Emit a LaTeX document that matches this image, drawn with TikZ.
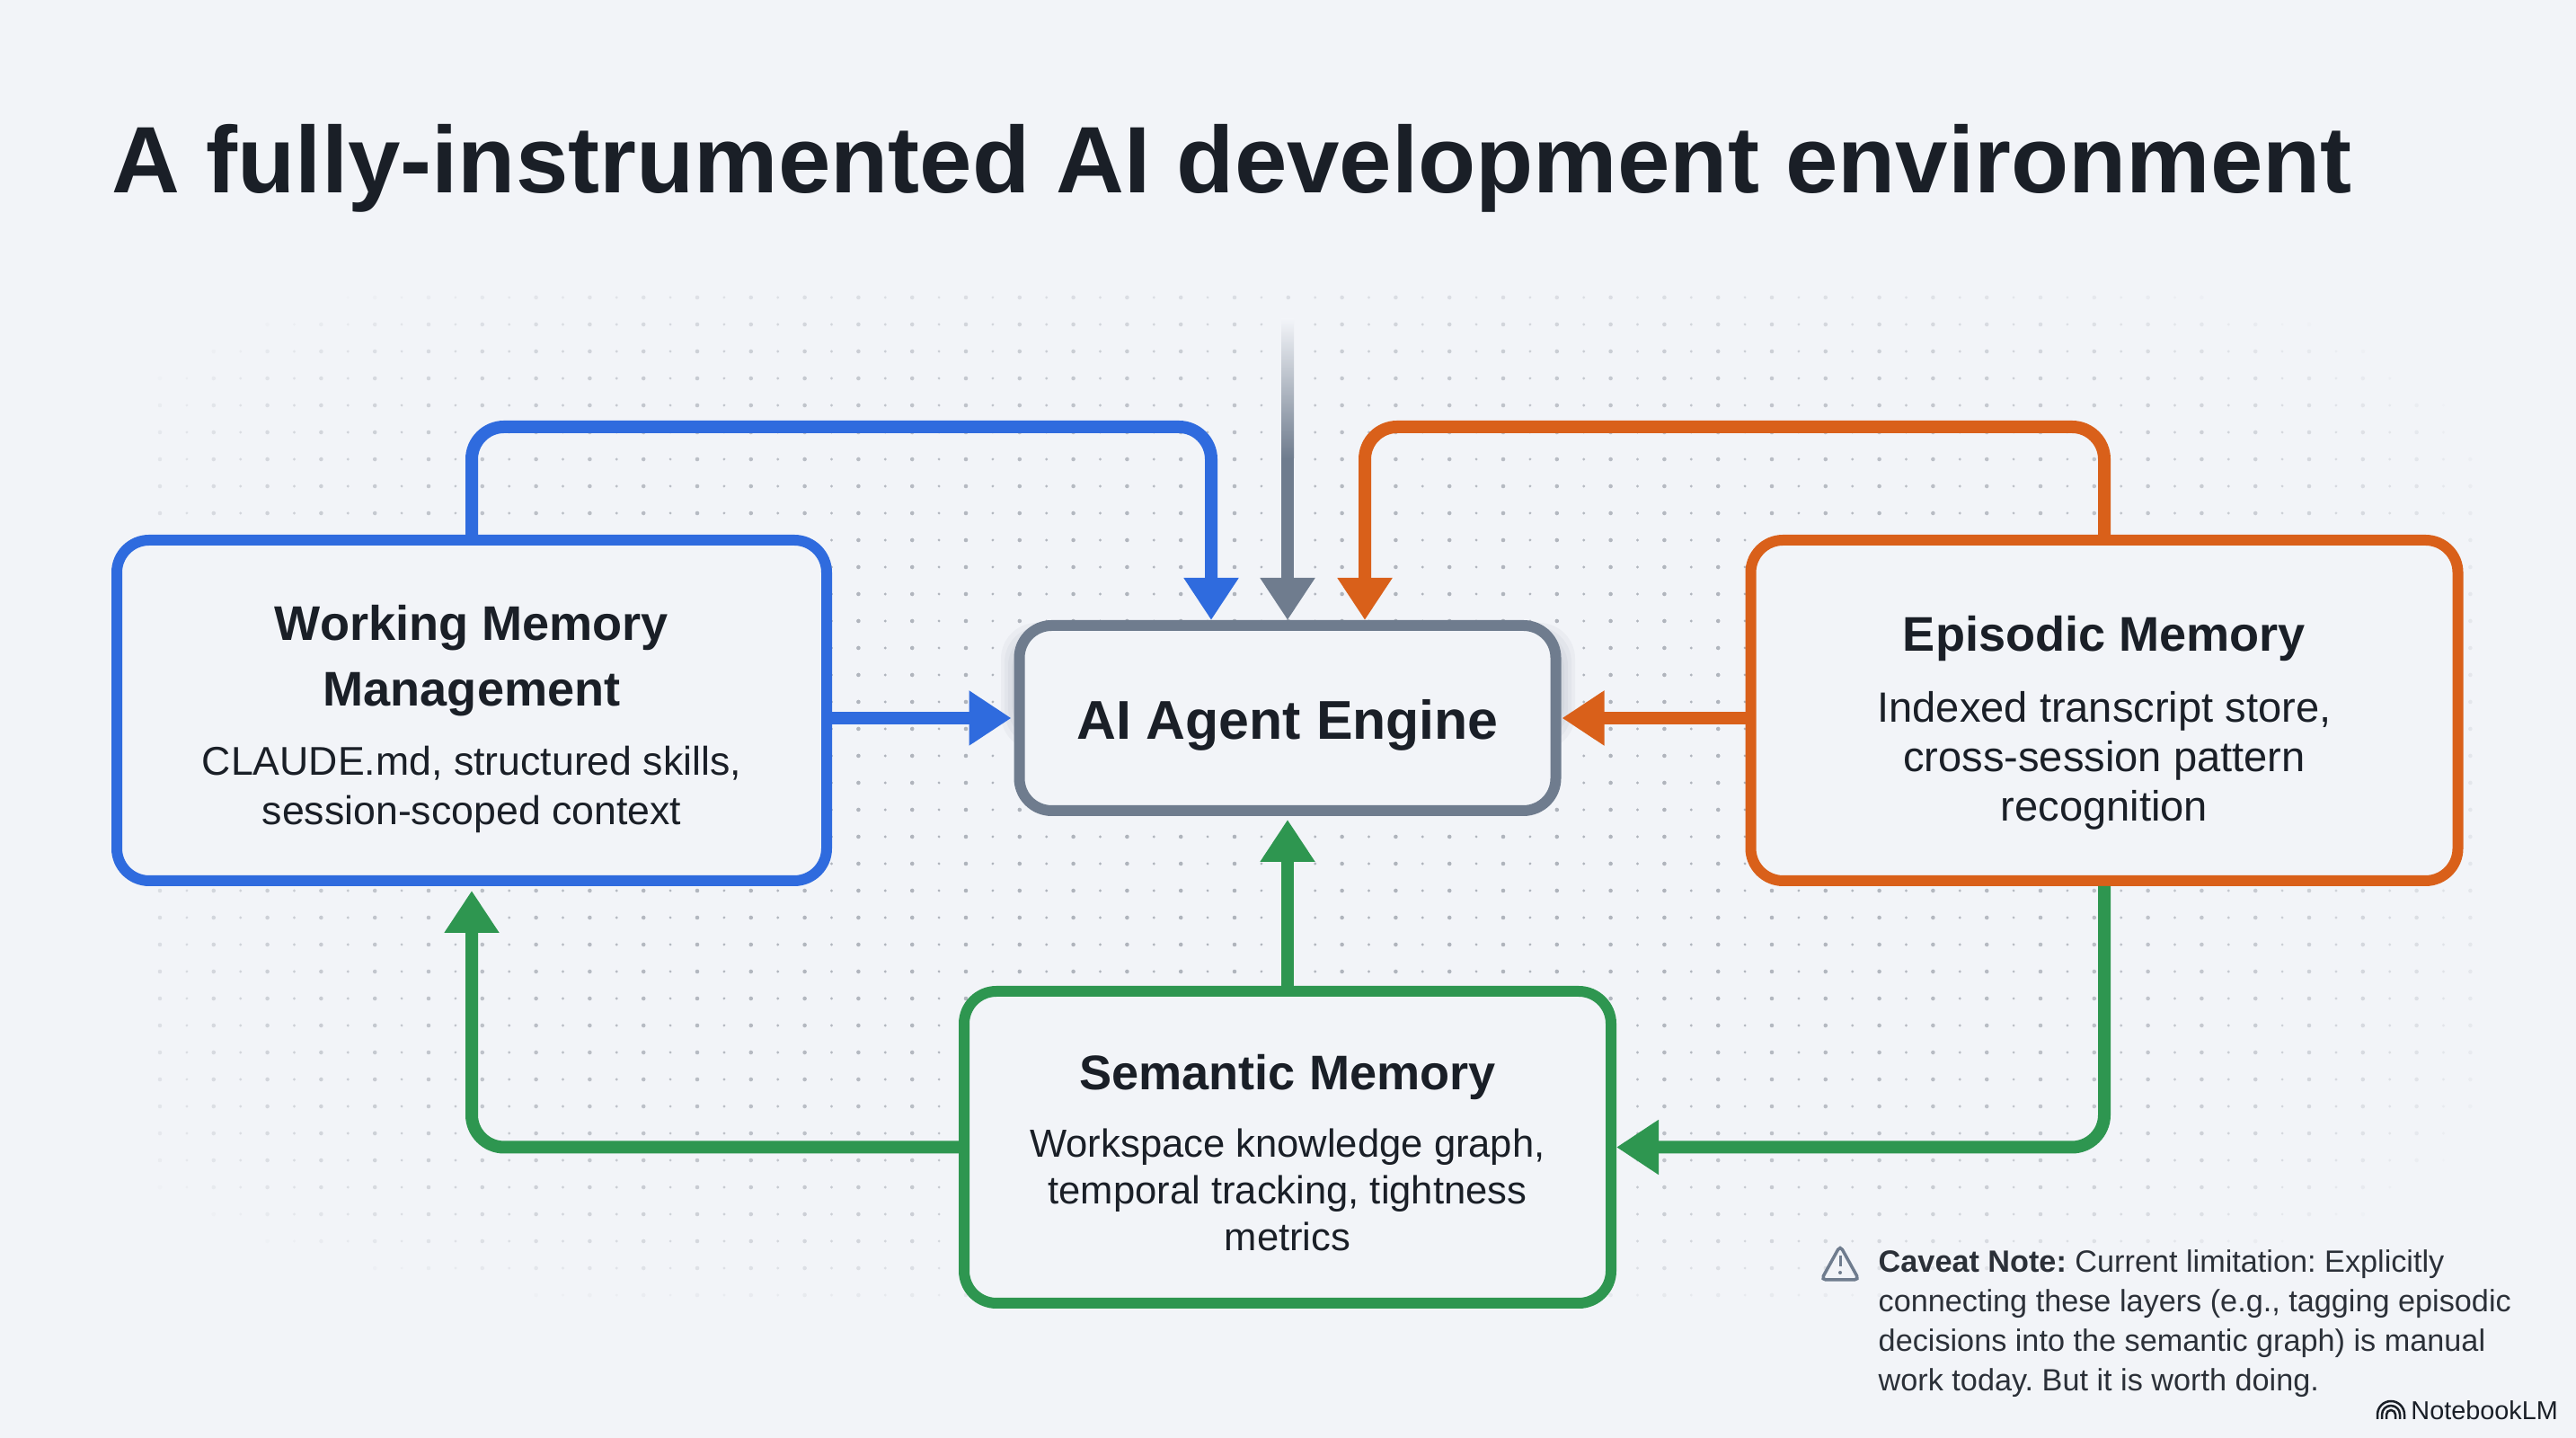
\documentclass[tikz,border=0pt]{standalone}
\usepackage{fontspec}
\setmainfont{Liberation Sans}
\usetikzlibrary{arrows.meta,calc}
\definecolor{pagebg}{HTML}{F2F4F8}
\definecolor{inkdark}{HTML}{1A1F27}
\definecolor{inkbody}{HTML}{2B3038}
\definecolor{dotgray}{HTML}{A4A9B2}
\definecolor{memblue}{HTML}{2F6BDE}
\definecolor{memorange}{HTML}{D9601A}
\definecolor{memgreen}{HTML}{2E9650}
\definecolor{enginegray}{HTML}{6F7C8E}
\newcommand{\headfont}{\fontsize{15.4}{15.6}\selectfont\bfseries}
\newcommand{\memtext}{\fontsize{12.7}{15.6}\selectfont}
\tikzset{
  membox/.style = {draw, line width=.12cm, fill=pagebg, rounded corners=.36cm, align=center, inner sep=0pt, text=inkdark, text depth=0pt},
  flow/.style = {line width=.14cm, rounded corners=.36cm, -{Triangle[width=.58cm,length=.47cm]}},
}

\begin{document}
\begin{tikzpicture}
\useasboundingbox (0, 0) rectangle (28.67, 16);
\fill[pagebg] (0, 0) rectangle (28.67, 16);
% dotted paper
\foreach \i in {0,...,86}
  \foreach \j in {0,...,38} {
    \pgfmathsetmacro{\dotx}{1.78 + .299*\i}
    \pgfmathsetmacro{\doty}{12.69 - .30*\j}
    \pgfmathsetmacro{\dotop}{.85*(1 - ((\dotx-14.3)/14)^4 - ((\doty-7.3)/6)^4)}
    \pgfmathsetmacro{\dotr}{ifthenelse(mod(\i,2)==0,.023,.016)}
    \ifdim\dotop pt>.03pt
      \fill[dotgray, opacity=\dotop] (\dotx, \doty) circle (\dotr);
    \fi
  }
\node (title) at (1.24, 14.13) [anchor=west, inner sep=0pt, text=inkdark, font=\fontsize{29.9}{36}\selectfont\bfseries] {A fully-instrumented AI development environment};
% soft shadow under the engine
\foreach \s in {.16,.12,.08,.04,0}
  \fill[enginegray, opacity=.06, rounded corners=.4cm] (11.30-\s, 7.93-\s-.12) rectangle (17.37+\s, 9.05+\s-.14);
\node (working) at (5.25, 8.095) [membox, draw=memblue, minimum width=7.90cm, minimum height=3.79cm, font=\memtext, text height=72pt] {\headfont Working Memory\\[5.2pt]\headfont Management\\[6.3pt]\memtext CLAUDE.md, structured skills,\\\memtext session-scoped context};
\node (engine) at (14.33, 8.01) [membox, draw=enginegray, minimum width=5.97cm, minimum height=2.06cm, text height=13.4pt] {\fontsize{17.3}{24}\selectfont\bfseries AI Agent Engine};
\node (episodic) at (23.42, 8.095) [membox, draw=memorange, minimum width=7.87cm, minimum height=3.79cm, font=\memtext, text height=69.8pt] {\headfont Episodic Memory\\[6.8pt]\fontsize{13.4}{15.6}\selectfont Indexed transcript store,\\\fontsize{13.4}{15.6}\selectfont cross-session pattern\\\fontsize{13.4}{15.6}\selectfont recognition};
\node (semantic) at (14.33, 3.235) [membox, draw=memgreen, minimum width=7.20cm, minimum height=3.47cm, font=\fontsize{12.4}{14.8}\selectfont, text height=65.3pt] {\headfont Semantic Memory\\[6.6pt]\fontsize{12.4}{14.8}\selectfont Workspace knowledge graph,\\\fontsize{12.4}{14.8}\selectfont temporal tracking, tightness\\\fontsize{12.4}{14.8}\selectfont metrics};
\coordinate (blueturn) at (13.48, 11.25);
\coordinate (orangeturn) at (15.19, 11.25);
\coordinate (graytop) at (14.33, 10.9);
\draw[flow, memblue] (working.north) |- (blueturn) -- (blueturn |- engine.north);
\draw[flow, memorange] (episodic.north) |- (orangeturn) -- (orangeturn |- engine.north);
\shade[top color=pagebg, bottom color=enginegray] (14.26, 12.45) rectangle (14.40, 10.9);
\draw[flow, enginegray] (graytop) -- (engine.north);
\draw[flow, memblue, shorten >=.03cm] (working.east |- engine.west) -- (engine.west);
\draw[flow, memorange, shorten >=.01cm] (episodic.west |- engine.east) -- (engine.east);
\draw[flow, memgreen, shorten >=.04cm] (semantic.north) -- (engine.south);
\draw[flow, memgreen, shorten >=.05cm] (semantic.west) -| (working.south);
\draw[flow, memgreen] (episodic.south) |- (semantic.east);
% caveat with its little sign
\draw[enginegray, line width=.035cm, rounded corners=.05cm] (20.48, 2.14) -- (20.27, 1.76) -- (20.69, 1.76) -- cycle;
\draw[enginegray, line width=.03cm] (20.48, 2.03) -- (20.48, 1.91);
\fill[enginegray] (20.48, 1.84) circle (.02);
\node (caveat) at (20.90, 1.27) [anchor=west, inner sep=0pt, align=left, text=inkbody, font=\fontsize{9.74}{12.5}\selectfont\frenchspacing] {\textbf{Caveat Note:} Current limitation: Explicitly\\connecting these layers (e.g., tagging episodic\\decisions into the semantic graph) is manual\\work today. But it is worth doing.};
% logo
\foreach \r in {.05,.10,.15}
  \draw[inkdark, line width=.025cm] (26.61-\r, .21) -- ++(0, .05) arc (180:0:\r) -- ++(0, -.05);
\node (logo) at (26.71, .31) [anchor=west, text=inkdark, font=\fontsize{8.2}{10}\selectfont] {NotebookLM};
\end{tikzpicture}
\end{document}
